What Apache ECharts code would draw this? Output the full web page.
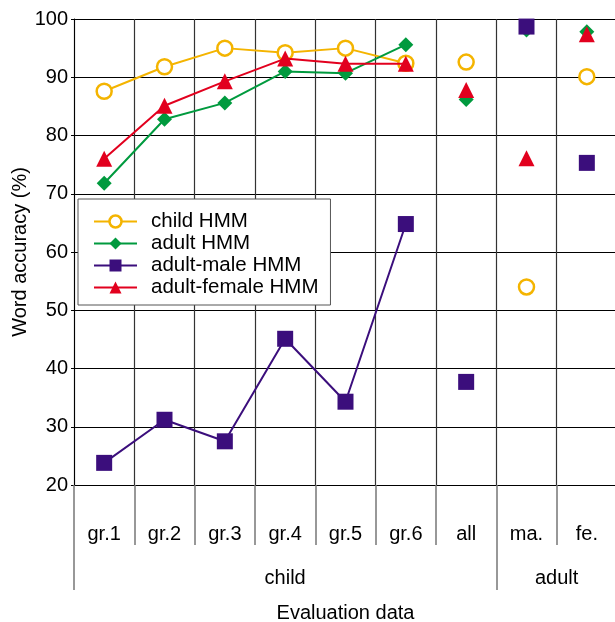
<!DOCTYPE html>
<html>
<head>
<meta charset="utf-8">
<script src="https://cdn.jsdelivr.net/npm/echarts@6/dist/echarts.min.js"></script>
<style>
  html, body { margin: 0; padding: 0; background: #fff; }
  #chart { width: 615px; height: 622px; }
</style>
</head>
<body>
<div id="chart"></div>
<script>
// categories
var categories = ['gr.1', 'gr.2', 'gr.3', 'gr.4', 'gr.5', 'gr.6', 'all', 'ma.', 'fe.']
var groupNames = ['child', 'adult']
var groupSpans = [7, 2]

// word accuracy (%) per grade, gr.1 .. gr.6 (joined by a line)
var childGrades = [87.6, 91.8, 95.0, 94.2, 95.0, 92.4]
var adultGrades = [71.8, 82.8, 85.6, 91.0, 90.7, 95.6]
var maleGrades = [23.8, 31.2, 27.5, 45.1, 34.3, 64.8]
var femaleGrades = [76.0, 85.1, 89.3, 93.2, 92.3, 92.3]

// all / ma. / fe. (single points)
var childOther = [92.6, 54.0, 90.1]
var adultOther = [86.2, 98.1, 97.8]
var maleOther = [37.7, 98.7, 75.3]
var femaleOther = [87.8, 76.1, 97.4]

var font = "'Liberation Sans', Arial, Helvetica, sans-serif"

function initChart() {
  let chart = echarts.init(document.getElementById('chart'))

  function pairs(vals, offset) {
    return vals.map(function (v, i) {
      return [categories[i + offset], v]
    })
  }

  // group separators + label positions on a 0..9 value axis
  var groupTicks = [0]
  var groupCenters = []
  var acc = 0
  groupSpans.forEach(function (s, i) {
    groupCenters.push(acc + s / 2)
    acc += s
    if (i < groupSpans.length - 1) groupTicks.push(acc)
  })

  var models = [
    { name: 'child HMM', grades: childGrades, other: childOther, color: '#f4b400', symbol: 'circle', size: 15, hollow: true },
    { name: 'adult HMM', grades: adultGrades, other: adultOther, color: '#009a3e', symbol: 'diamond', size: 15 },
    { name: 'adult-male HMM', grades: maleGrades, other: maleOther, color: '#3b0e7c', symbol: 'rect', size: 16 },
    { name: 'adult-female HMM', grades: femaleGrades, other: femaleOther, color: '#e2001e', symbol: 'triangle', size: 16 },
  ]

  function markStyle(m) {
    return {
      color: m.hollow ? '#fff' : m.color,
      borderColor: m.color,
      borderWidth: m.hollow ? 2.5 : 0,
      opacity: 1,
    }
  }

  var series = []
  models.forEach(function (m, i) {
    series.push({
      name: m.name,
      type: 'line',
      data: pairs(m.grades, 0),
      symbol: m.symbol,
      symbolSize: m.size,
      showAllSymbol: true,
      lineStyle: { width: 2, color: m.color },
      itemStyle: markStyle(m),
      z: 2 + i,
      animation: false,
    })
  })
  models.forEach(function (m, i) {
    series.push({
      name: m.name,
      type: 'scatter',
      data: pairs(m.other, 6),
      symbol: m.symbol,
      symbolSize: m.size,
      itemStyle: markStyle(m),
      z: 2 + i,
      animation: false,
    })
  })

  var option = {
    backgroundColor: '#fff',
    textStyle: { fontFamily: font },
    legend: {
      orient: 'vertical',
      left: 78,
      top: 199,
      data: models.map(function (m) {
        return { name: m.name, itemStyle: markStyle(m), lineStyle: { color: m.color, width: 2 } }
      }),
      backgroundColor: '#fff',
      borderColor: '#555',
      borderWidth: 1,
      padding: [12, 12, 7, 15],
      itemWidth: 43,
      itemHeight: 15,
      itemGap: 1,
      textStyle: { fontSize: 20.5, color: '#000', fontFamily: font, lineHeight: 20, padding: [0, 0, 0, 9] },
      z: 10,
    },
    grid: {
      left: 74,
      right: -2,
      top: 19,
      bottom: 137,
      containLabel: false,
      outerBoundsMode: 'none',
    },
    xAxis: [
      {
        type: 'category',
        data: categories,
        boundaryGap: true,
        name: 'Evaluation data',
        nameLocation: 'middle',
        nameGap: 118,
        nameMoveOverlap: false,
        nameTextStyle: { fontSize: 20, color: '#000', fontFamily: font },
        axisLine: { show: true, lineStyle: { color: '#000', width: 1 } },
        axisTick: { show: true, interval: 0, length: 60, lineStyle: { color: '#777', width: 1.5 } },
        axisLabel: { interval: 0, margin: 39, fontSize: 20, color: '#000', fontFamily: font },
        splitLine: { show: true, interval: 0, lineStyle: { color: '#333', width: 1.2 } },
      },
      {
        type: 'value',
        min: 0,
        max: categories.length,
        position: 'bottom',
        axisLine: { show: false },
        splitLine: { show: false },
        axisTick: { show: true, customValues: groupTicks, length: 105, lineStyle: { color: '#777', width: 1.5 } },
        axisLabel: {
          customValues: groupCenters,
          margin: 83,
          fontSize: 20,
          color: '#000',
          fontFamily: font,
          formatter: function (v) {
            return groupNames[groupCenters.indexOf(v)]
          },
        },
      },
    ],
    yAxis: {
      type: 'value',
      min: 20,
      max: 100,
      interval: 10,
      name: 'Word accuracy (%)',
      nameLocation: 'middle',
      nameGap: 44,
      nameMoveOverlap: false,
      nameTextStyle: { fontSize: 20, color: '#000', fontFamily: font },
      axisLine: { show: true, lineStyle: { color: '#000', width: 1 } },
      axisTick: { show: true, length: 3, lineStyle: { color: '#000' } },
      axisLabel: { margin: 6, fontSize: 20, color: '#000', fontFamily: font },
      splitLine: { show: true, lineStyle: { color: '#000', width: 1 } },
    },
    series: series,
  }
  chart.setOption(option)
}

initChart()
</script>
</body>
</html>
